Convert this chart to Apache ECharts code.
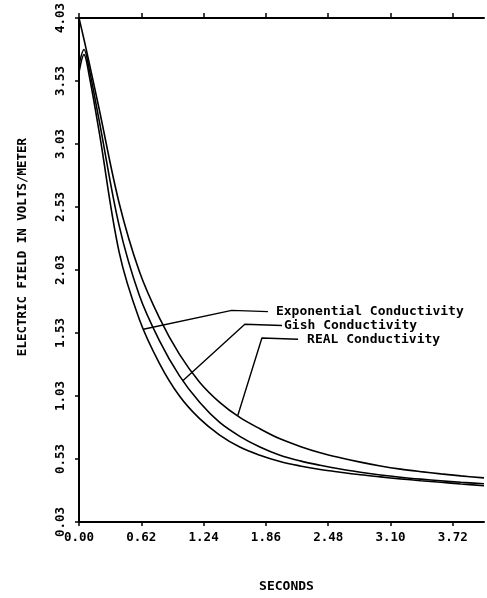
<!DOCTYPE html>
<html>
<head>
<meta charset="utf-8">
<script src="https://cdn.jsdelivr.net/npm/echarts@6/dist/echarts.min.js"></script>
<style>html,body{margin:0;padding:0;background:#fff}#c{width:487px;height:598px}</style>
</head>
<body>
<div id="c"></div>
<script>
// Time samples (seconds)
const seconds = [0, 0.05, 0.1, 0.2, 0.4, 0.6, 0.8, 1.0, 1.2, 1.4, 1.6, 1.8, 2.0, 2.2, 2.4, 2.6, 2.8, 3.0, 3.2, 3.4, 3.6, 3.8, 4.03];
// Electric field (V/m)
const realConductivity = [4.03, 3.86, 3.68, 3.31, 2.56, 2.02, 1.65, 1.36, 1.14, 0.98, 0.86, 0.77, 0.69, 0.63, 0.58, 0.54, 0.505, 0.475, 0.45, 0.43, 0.412, 0.396, 0.38];
const gishConductivity = [3.66, 3.78, 3.63, 3.22, 2.38, 1.83, 1.47, 1.19, 0.98, 0.82, 0.71, 0.625, 0.56, 0.515, 0.48, 0.45, 0.425, 0.403, 0.385, 0.37, 0.357, 0.345, 0.333];
const expConductivity  = [3.60, 3.74, 3.58, 3.13, 2.17, 1.64, 1.29, 1.03, 0.85, 0.72, 0.625, 0.56, 0.51, 0.475, 0.447, 0.425, 0.405, 0.388, 0.372, 0.358, 0.345, 0.332, 0.318];
// Tick labels
const xTicks = [0.00, 0.62, 1.24, 1.86, 2.48, 3.10, 3.72];
const yTicks = [0.03, 0.53, 1.03, 1.53, 2.03, 2.53, 3.03, 3.53, 4.03];
// Annotation labels
const annotationNames = ['Exponential Conductivity', 'Gish Conductivity', 'REAL Conductivity'];
// Leader lines [point on curve, elbow, text anchor] in data units
const expLeader  = [[0.64, 1.56], [1.52, 1.71], [1.88, 1.70]];
const gishLeader = [[1.03, 1.15], [1.65, 1.60], [2.02, 1.59]];
const realLeader = [[1.58, 0.875], [1.82, 1.49], [2.18, 1.48]];

const mono = '"DejaVu Sans Mono", monospace';
const zip = (xs, ys) => xs.map((x, i) => [x, ys[i]]);

function curve(name, ys) {
  return {
    name, type: 'line', smooth: 0.35, symbol: 'none', data: zip(seconds, ys),
    lineStyle: { color: '#000', width: 1.6 }, z: 3
  };
}
function leader(name, pts, dx) {
  return {
    type: 'line', symbol: 'none', data: pts, silent: true,
    lineStyle: { color: '#000', width: 1.4 }, z: 4,
    endLabel: { show: true, formatter: name, distance: dx,
      color: '#000', fontFamily: mono, fontWeight: 'bold', fontSize: 13 }
  };
}

const chart = echarts.init(document.getElementById('c'));
chart.setOption({
  animation: false,
  backgroundColor: '#fff',
  grid: { left: 79, right: 3, top: 18, bottom: 71 },
  xAxis: [{
    type: 'value', min: 0, max: 4.03, position: 'bottom',
    name: 'SECONDS', nameLocation: 'middle', nameGap: 58,
    nameTextStyle: { color: '#000', fontFamily: mono, fontWeight: 'bold', fontSize: 13, padding: [0, 0, 0, 10] },
    axisLine: { show: true, lineStyle: { color: '#000', width: 2 } },
    axisTick: { show: true, length: 4, customValues: xTicks, lineStyle: { color: '#000', width: 1.5 } },
    axisLabel: { customValues: xTicks, formatter: v => v.toFixed(2), margin: 9,
      color: '#000', fontFamily: mono, fontWeight: 'bold', fontSize: 12.5 },
    splitLine: { show: false }
  }, {
    type: 'value', min: 0, max: 4.03, position: 'top',
    axisLine: { show: true, lineStyle: { color: '#000', width: 2 } },
    axisTick: { show: true, length: 5, customValues: xTicks, lineStyle: { color: '#000', width: 1.5 } },
    axisLabel: { show: false }, splitLine: { show: false }
  }],
  yAxis: [{
    type: 'value', min: 0.03, max: 4.03, position: 'left',
    name: 'ELECTRIC FIELD IN VOLTS/METER', nameLocation: 'middle', nameGap: 50,
    nameTextStyle: { color: '#000', fontFamily: mono, fontWeight: 'bold', fontSize: 12.5, padding: [0, 0, 0, 46] },
    axisLine: { show: true, lineStyle: { color: '#000', width: 2 } },
    axisTick: { show: true, length: 4, customValues: yTicks, lineStyle: { color: '#000', width: 1.5 } },
    axisLabel: { customValues: yTicks, formatter: v => v.toFixed(2), rotate: 90, margin: 12,
      color: '#000', fontFamily: mono, fontWeight: 'bold', fontSize: 12.5 },
    splitLine: { show: false }
  }, {
    type: 'value', min: 0.03, max: 4.03, position: 'right',
    axisLine: { show: true, lineStyle: { color: '#000', width: 2 } },
    axisTick: { show: false }, axisLabel: { show: false }, splitLine: { show: false }
  }],
  series: [
    curve('REAL Conductivity', realConductivity),
    curve('Gish Conductivity', gishConductivity),
    curve('Exponential Conductivity', expConductivity),
    leader(annotationNames[0], expLeader, 8),
    leader(annotationNames[1], gishLeader, 2),
    leader(annotationNames[2], realLeader, 9)
  ]
});
</script>
</body>
</html>
